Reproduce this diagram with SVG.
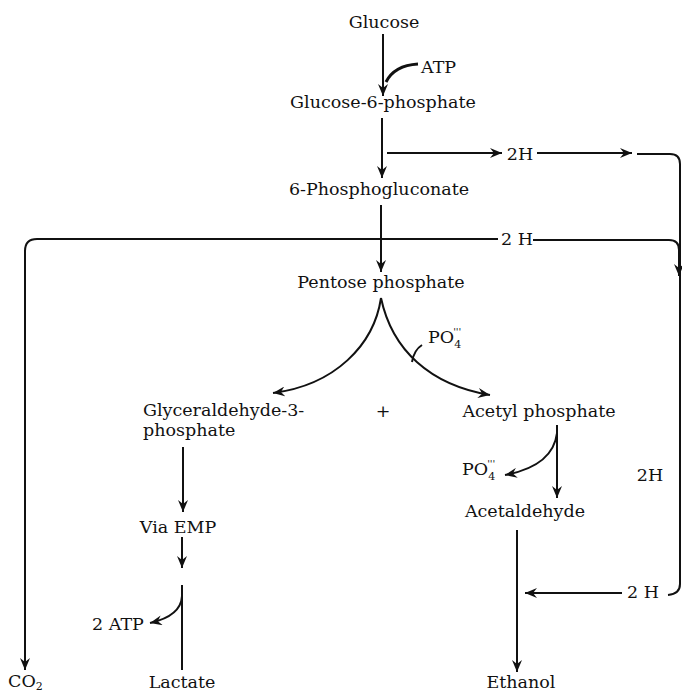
<svg xmlns="http://www.w3.org/2000/svg" width="682" height="696" viewBox="0 0 682 696">
<defs>
<marker id="ah" markerUnits="userSpaceOnUse" markerWidth="14" markerHeight="10" refX="12" refY="5" orient="auto">
<path d="M0,0 L12,5 L0,10 L4,5 z" fill="#111"/>
</marker>
<style>
text{font-family:"DejaVu Serif","Liberation Serif",serif;font-size:17.5px;fill:#111}
.c{text-anchor:middle}
.ln{fill:none;stroke:#111;stroke-width:2}
.ar{fill:none;stroke:#111;stroke-width:2;marker-end:url(#ah)}
.sm{font-size:11px}
.pr{font-size:10px;font-style:italic}
</style>
</defs>
<rect width="682" height="696" fill="#fff"/>
<g id="connectors">
<line class="ar" x1="383" y1="34" x2="383" y2="96"/>
<path d="M418,64 C402,65 391,72 386,82" fill="none" stroke="#111" stroke-width="3"/>
<line class="ar" x1="382" y1="118" x2="382" y2="178"/>
<line class="ar" x1="387" y1="153" x2="502" y2="153"/>
<line class="ar" x1="537" y1="153" x2="632" y2="153"/>
<path class="ln" d="M637,154 H670 Q680,154 680,164 V584 Q680,594 668,595"/>
<line class="ar" x1="381" y1="205" x2="381" y2="272"/>
<path class="ar" d="M498,239 H37 Q25,239 25,251 V670"/>
<path class="ar" d="M533,240 H669 Q679,240 679,250 V276"/>
<line class="ar" x1="622" y1="593" x2="525" y2="593"/>
<path class="ar" d="M381,298 C374,345 335,385 273,393"/>
<path class="ar" d="M381,298 C392,350 430,385 490,395"/>
<path class="ln" d="M422,345 Q414,350 412,362"/>
<line class="ar" x1="183" y1="447" x2="183" y2="512"/>
<line class="ar" x1="182" y1="537" x2="182" y2="568"/>
<line class="ln" x1="182" y1="585" x2="182" y2="670"/>
<path class="ar" d="M182,596 Q181,616 150,623"/>
<line class="ar" x1="557" y1="425" x2="557" y2="498"/>
<path class="ar" d="M557,433 Q553,466 505,475"/>
<line class="ar" x1="517" y1="530" x2="517" y2="672"/>
</g>
<g id="glucose"><text class="c" x="384" y="28">Glucose</text></g>
<g id="atp"><text x="421" y="73">ATP</text></g>
<g id="g6p"><text class="c" x="383" y="108">Glucose-6-phosphate</text></g>
<g id="h2a"><text class="c" x="520" y="160">2H</text></g>
<g id="pg"><text class="c" x="379" y="195">6-Phosphogluconate</text></g>
<g id="h2b"><text class="c" x="517" y="245">2 H</text></g>
<g id="pentose"><text class="c" x="381" y="288">Pentose phosphate</text></g>
<g id="po4a"><text x="428" y="343">PO<tspan class="sm" dy="5">4</tspan><tspan class="pr" dx="-8" dy="-13">'''</tspan></text></g>
<g id="gap"><text x="143" y="416">Glyceraldehyde-3-</text><text x="143" y="436">phosphate</text></g>
<g id="plus"><text class="c" x="383" y="417">+</text></g>
<g id="acp"><text class="c" x="539" y="417">Acetyl phosphate</text></g>
<g id="po4b"><text x="462" y="475">PO<tspan class="sm" dy="5">4</tspan><tspan class="pr" dx="-8" dy="-13">'''</tspan></text></g>
<g id="h2c"><text class="c" x="650" y="481">2H</text></g>
<g id="acald"><text class="c" x="525" y="517">Acetaldehyde</text></g>
<g id="emp"><text class="c" x="178" y="533">Via EMP</text></g>
<g id="atp2"><text x="92" y="630">2 ATP</text></g>
<g id="h2d"><text class="c" x="643" y="598">2 H</text></g>
<g id="co2"><text x="8" y="687">CO<tspan class="sm" dy="3">2</tspan></text></g>
<g id="lactate"><text class="c" x="182" y="688">Lactate</text></g>
<g id="ethanol"><text class="c" x="521" y="688">Ethanol</text></g>
</svg>
